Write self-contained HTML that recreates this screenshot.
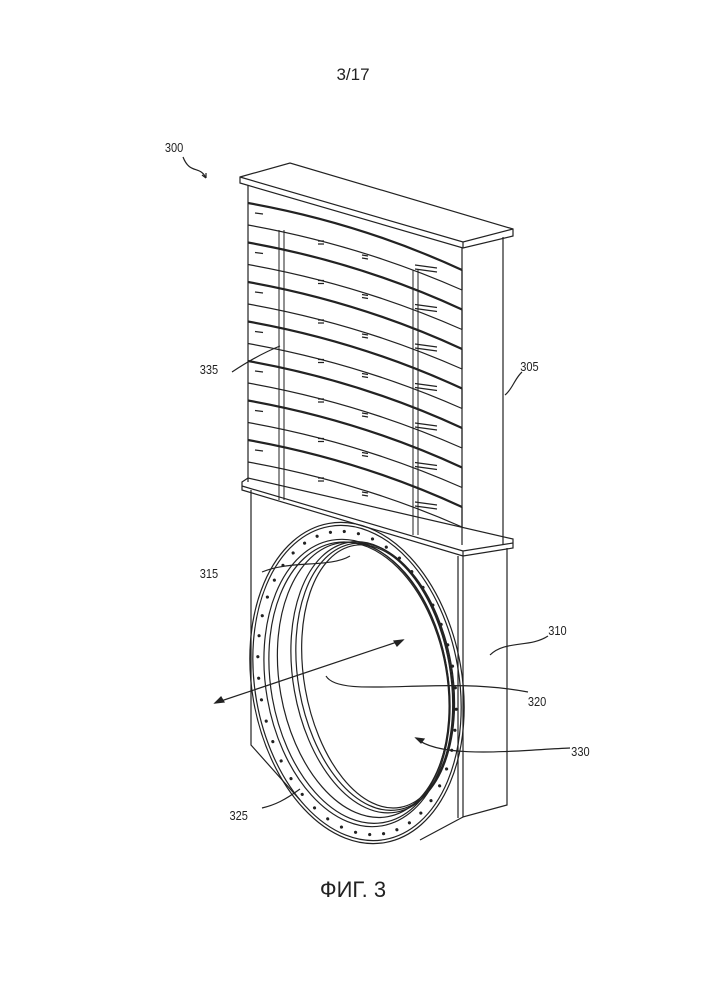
<!DOCTYPE html>
<html><head><meta charset="utf-8"><style>
html,body{margin:0;padding:0;background:#fff;}
svg{display:block}
text{font-family:"Liberation Sans",sans-serif;fill:#222}
</style></head><body>
<svg id="s" width="707" height="1000" viewBox="0 0 707 1000" xmlns="http://www.w3.org/2000/svg" fill="none" stroke="#222" stroke-width="1.2">
<text x="353" y="80" font-size="17" text-anchor="middle" stroke="none">3/17</text>
<text x="353" y="897" font-size="22" text-anchor="middle" stroke="none">ФИГ. 3</text>
<!-- labels -->
<g stroke="none" font-size="13" transform="scale(0.85,1)">
<text x="194" y="152">300</text>
<text x="235" y="374">335</text>
<text x="612" y="371">305</text>
<text x="235" y="578">315</text>
<text x="645" y="635">310</text>
<text x="621" y="706">320</text>
<text x="672" y="756">330</text>
<text x="270" y="820">325</text>
</g>
<path d="M183 157 C190 175,200 165,206 178" />
<path d="M206 178 l-4 -3 M206 178 l0 -5" />
<!-- top cap -->
<path d="M240 177 L290 163 L513 229 L513 236 L463 248 L240 183 Z"/>
<path d="M240 177 L463 242 L513 229 M463 242 L463 248"/>
<!-- upper box -->
<path d="M248 185 L248 482 M462 248 L462 545 M503 237 L503 545"/>
<!-- lower flange -->
<path d="M242 482 L248 478 L513 539 L513 548 L463 556 L242 490 Z"/>
<path d="M242 486 L463 551 L513 543 M463 551 L463 556"/>
<!-- lower box -->
<path d="M251 490 L251 745 L300 800 M463 556 L463 817 L507 805 L507 548 M458 556 L458 818"/>
<path d="M463 817 L420 840"/>
<g id="slats"></g>
<!-- ring -->
<g transform="rotate(-10 357 683)">
<ellipse cx="357" cy="683" rx="105" ry="162"/>
<ellipse cx="357" cy="683" rx="102" ry="159"/>
<ellipse cx="357" cy="683" rx="91" ry="145"/>
<ellipse cx="359" cy="683" rx="88" ry="142"/>
<ellipse cx="364" cy="681" rx="84" ry="139"/>
<ellipse cx="373" cy="680" rx="79" ry="137"/>
<ellipse cx="376" cy="680" rx="77" ry="135"/>
<ellipse cx="378" cy="680" rx="73" ry="133"/>
<g id="dots" fill="#222" stroke="none"></g>
</g>
<!-- leaders -->
<path d="M215 703 L403 640" />
<path d="M403 640 l-9 1 l3 5 Z M215 703 l9 -1 l-3 -5 Z" fill="#222"/>
<path d="M326 676 C340 700,440 675,528 692"/>
<path d="M416 738 C440 760,520 750,570 748" /><path d="M416 738 l8 1 l-3 4 Z" fill="#222"/>
<path d="M490 655 C505 640,530 648,548 636"/>
<path d="M300 789 C285 800,275 805,262 808"/>
<path d="M350 556 C330 568,290 560,262 572"/>
<path d="M232 372 C250 360,265 352,280 346" />
<path d="M505 395 C512 390,515 378,522 372"/>
</svg>
<script>
var ns="http://www.w3.org/2000/svg";
var g=document.getElementById('slats');
function P(d,w){var p=document.createElementNS(ns,'path');p.setAttribute('d',d);if(w)p.setAttribute('stroke-width',w);g.appendChild(p);}
for(var i=0;i<7;i++){
 var y=203+i*39.5;
 P('M248 '+y+' Q360 '+(y+20)+' 462 '+(y+67),2.2);
 P('M248 '+(y+22)+' Q360 '+(y+42)+' 462 '+(y+87));
 P('M462 '+(y+67)+' L462 '+(y+87));
 P('M255 '+(y+10)+' l8 1');
 P('M318 '+(y+38)+' l6 0 M318 '+(y+41)+' l6 0');
 P('M362 '+(y+52)+' l6 1 M362 '+(y+55)+' l6 1');
 P('M415 '+(y+62)+' l22 3 M415 '+(y+66)+' l22 3');
}
P('M279 230 L279 500 M284 230 L284 500 M413 270 L413 535 M418 270 L418 535',1);
var d=document.getElementById('dots');
for(var k=0;k<44;k++){var a=k/44*2*Math.PI;var c=document.createElementNS(ns,'circle');
c.setAttribute('cx',357+97*Math.cos(a));c.setAttribute('cy',683+153*Math.sin(a));c.setAttribute('r',1.6);d.appendChild(c);}
</script>
</body></html>
